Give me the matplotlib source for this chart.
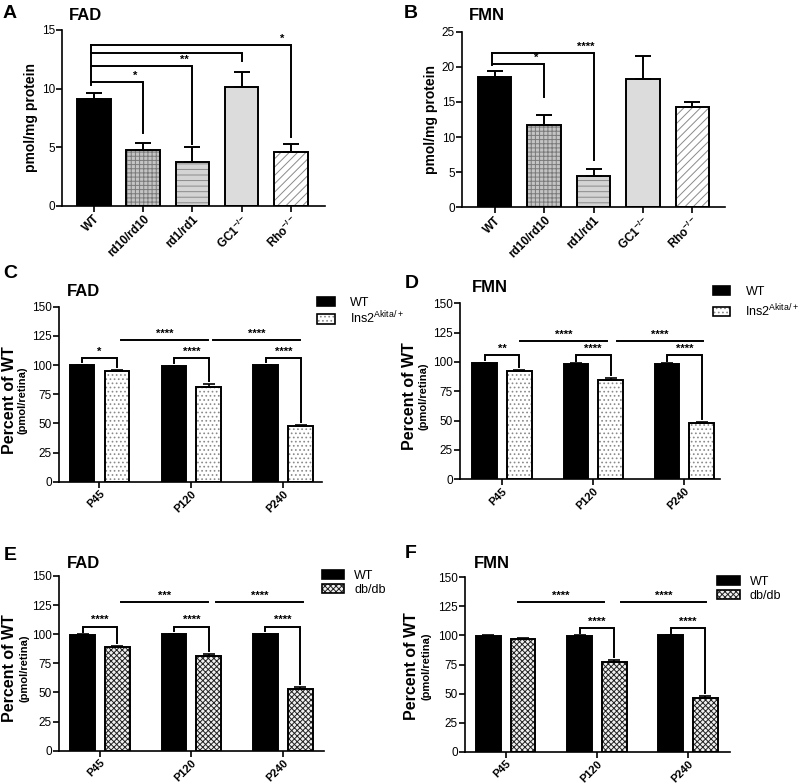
import numpy as np
import matplotlib
matplotlib.use("Agg")
from matplotlib import pyplot as plt
from matplotlib.patches import Patch
from matplotlib.legend_handler import HandlerTuple

plt.rcParams['font.family'] = ['Liberation Sans', 'DejaVu Sans']
plt.rcParams['mathtext.fontset'] = 'custom'
plt.rcParams['mathtext.rm'] = 'Liberation Sans'
plt.rcParams['mathtext.bf'] = 'Liberation Sans:bold'
plt.rcParams['mathtext.default'] = 'regular'
plt.rcParams['hatch.linewidth'] = 0.7
plt.rcParams['axes.linewidth'] = 1.2

# ---- data ----
genotypes = ['WT', 'rd10/rd10', 'rd1/rd1', 'GC1$^{-/-}$', 'Rho$^{-/-}$']
fad_geno = [9.1, 4.8, 3.75, 10.1, 4.6]
fad_geno_err = [0.55, 0.55, 1.3, 1.3, 0.65]
fmn_geno = [18.5, 11.7, 4.5, 18.3, 14.3]
fmn_geno_err = [0.95, 1.4, 1.0, 3.3, 0.7]

ages = ['P45', 'P120', 'P240']
fad_wt_akita = [100, 99.1, 99.7]
fad_akita = [94.9, 80.9, 47.5]
fad_akita_err = [0.8, 2.9, 1.1]
fmn_wt_akita = [98.9, 98.3, 98.6]
fmn_akita = [92.6, 84.3, 48.0]
fmn_akita_err = [0.8, 1.7, 1.0]
fad_wt_db = [99.4, 100, 100]
fad_db = [89.0, 81.4, 53.0]
fad_db_err = [0.9, 1.6, 2.0]
fmn_wt_db = [99.7, 99.7, 100]
fmn_db = [97.0, 77.2, 46.2]
fmn_db_err = [1.1, 1.7, 1.5]

# significance
a_stars = ['*', '**', '', '*']
b_stars = ['*', '****']
c_pair = ['*', '****', '****']
c_long = ['****', '****']
d_pair = ['**', '****', '****']
d_long = ['****', '****']
e_pair = ['****', '****', '****']
e_long = ['***', '****']
f_pair = ['', '****', '****']
f_long = ['****', '****']

W, H = 800, 784
fig = plt.figure(figsize=(8, 7.84), dpi=100)


def px_axes(l, r, t, b):
    return fig.add_axes([l / W, 1 - b / H, (r - l) / W, (b - t) / H])


def style_axes(ax):
    for s in ['top', 'right']:
        ax.spines[s].set_visible(False)
    ax.tick_params(axis='y', labelsize=8.5, width=1.2, length=4, pad=1)
    ax.tick_params(axis='x', width=1.2, length=4, pad=1)


def hbar(ax, x, h, w, face, hatch=None, hcol='black'):
    ax.bar(x, h, w, color=face, edgecolor=hcol, hatch=hatch, linewidth=0, zorder=2)
    ax.bar(x, h, w, fill=False, edgecolor='black', linewidth=1.4, zorder=3)


def stars(ax, x, y, s, dy=4.5):
    if s:
        ax.annotate(s, (x, y), xytext=(0, dy), textcoords='offset points',
                    ha='center', va='center', fontsize=8, fontweight='bold')


def fig_text(x, y, s, size, **kw):
    fig.text(x / W, 1 - y / H, s, fontsize=size, fontweight='bold', va='center', **kw)


geno_styles = [('black', None, 'black'), ('#c4c4c4', '++++', '#7a7a7a'),
               ('#d4d4d4', '---', '#8a8a8a'), ('#dcdcdc', None, 'black'),
               ('white', '////', '#8a8a8a')]


def geno_panel(ax, vals, errs, ymax, step, xlim):
    x = np.arange(len(vals))
    for i in range(len(vals)):
        face, hatch, hc = geno_styles[i]
        hbar(ax, x[i], vals[i], 0.68, face, hatch, hc)
    ax.errorbar(x, vals, yerr=[np.zeros(len(vals)), errs], fmt='none', ecolor='black',
                elinewidth=1.4, capsize=5.5, capthick=1.4, zorder=4)
    ax.set_ylim(0, ymax)
    ax.set_yticks(np.arange(0, ymax + 1, step))
    ax.set_xlim(*xlim)
    ax.set_xticks(x)
    ax.set_xticklabels(genotypes, rotation=45, ha='right', rotation_mode='anchor',
                       fontsize=8.5, fontweight='bold')
    style_axes(ax)
    ax.set_ylabel('pmol/mg protein', fontsize=10, fontweight='bold', labelpad=3)


def bracket_from_wt(ax, xs, ys, drops, top_y, bottom_y, labels, star_dx):
    lw = 1.4
    ax.plot([-0.05, -0.05], [bottom_y, top_y], color='black', lw=lw, zorder=5)
    for x, y, d, s in zip(xs, ys, drops, labels):
        ax.plot([-0.05, x, x], [y, y, d], color='black', lw=lw, zorder=5,
                solid_joinstyle='miter')
        stars(ax, x - star_dx, y, s)


group_off = 0.19
group_w = 0.27


def group_panel(ax, wt, mut, mut_err, mut_style, xlim, pair_y, pair_labels,
                long_y, long_xs, long_labels, mut_label):
    g = np.arange(len(wt))
    for i in range(len(wt)):
        hbar(ax, g[i] - group_off, wt[i], group_w, 'black')
        hbar(ax, g[i] + group_off, mut[i], group_w, *mut_style)
    ax.errorbar(g - group_off, wt, yerr=[np.zeros(3), np.full(3, 0.4)], fmt='none',
                ecolor='black', elinewidth=1.2, capsize=4.5, capthick=1.2, zorder=4)
    ax.errorbar(g + group_off, mut, yerr=[np.zeros(3), mut_err], fmt='none',
                ecolor='black', elinewidth=1.2, capsize=4.5, capthick=1.2, zorder=4)
    lw = 1.4
    for i in range(len(wt)):
        if not pair_labels[i]:
            continue
        x0, x1 = g[i] - group_off, g[i] + group_off
        ax.plot([x0, x0, x1, x1], [wt[i] + 2.5, pair_y, pair_y, mut[i] + mut_err[i] + 2.5],
                color='black', lw=lw, zorder=5, solid_joinstyle='miter')
        stars(ax, (x0 + x1) / 2, pair_y, pair_labels[i])
    for (xa, xb), s in zip(long_xs, long_labels):
        ax.plot([xa, xb], [long_y, long_y], color='black', lw=lw, zorder=5)
        stars(ax, (xa + xb) / 2, long_y, s)
    ax.set_ylim(0, 150)
    ax.set_yticks(np.arange(0, 151, 25))
    ax.set_xlim(*xlim)
    ax.set_xticks(g)
    ax.set_xticklabels(ages, rotation=45, ha='right', rotation_mode='anchor',
                       fontsize=8, fontweight='bold')
    style_axes(ax)
    face, hatch, hc = mut_style
    h1 = (Patch(facecolor='black', edgecolor='black', linewidth=1.2),)
    h2 = (Patch(facecolor=face, edgecolor=hc, hatch=hatch, linewidth=0),
          Patch(fill=False, edgecolor='black', linewidth=1.2))
    return [h1, h2], ['WT', mut_label]


def add_legend(ax, handles, labels, x, y, hl, pad, spacing):
    ax.legend(handles, labels, loc='upper left', bbox_to_anchor=(x, y), frameon=False,
              fontsize=9, handlelength=hl, handleheight=0.75, handletextpad=pad,
              borderaxespad=0, borderpad=0, labelspacing=spacing,
              handler_map={tuple: HandlerTuple(ndivide=1)})


def ylab2(xa, xb, y):
    fig_text(xa, y, 'Percent of WT', 11.5, rotation=90, ha='center')
    fig_text(xb, y, '(pmol/retina)', 8, rotation=90, ha='center')


# ---- A ----
axA = px_axes(62, 325, 30, 206)
geno_panel(axA, fad_geno, fad_geno_err, 15, 5, (-0.645, 4.69))
bracket_from_wt(axA, [1, 2, 3, 4], [10.55, 11.9, 13.0, 13.7], [6.2, 5.3, 12.4, 5.9],
                13.7, 10.3, a_stars, 0.17)
fig_text(3, 14, 'A', 14)
fig_text(69, 16, 'FAD', 12)

# ---- B ----
axB = px_axes(462, 725, 31.7, 207.3)
geno_panel(axB, fmn_geno, fmn_geno_err, 25, 5, (-0.66, 4.66))
bracket_from_wt(axB, [1, 2], [20.35, 21.9], [15.75, 6.7], 21.9, 20.2, b_stars, 0.16)
fig_text(404, 14, 'B', 14)
fig_text(469, 16, 'FMN', 12)

ins_style = ('white', '....', '#8a8a8a')
db_style = ('#f0f0f0', 'xxxxxx', '#222222')
ins_label = 'Ins2$^{Akita/+}$'

# ---- C ----
axC = px_axes(59, 322, 306.7, 481.7)
hs, ls = group_panel(axC, fad_wt_akita, fad_akita, fad_akita_err, ins_style, (-0.44, 2.42),
                     105.7, c_pair, 121.4, [(0.23, 1.18), (1.23, 2.18)], c_long, ins_label)
add_legend(axC, hs, ls, 0.981, 1.058, 1.4, 1.2, 0.1)
fig_text(3, 274, 'C', 14)
fig_text(67, 292, 'FAD', 12)
ylab2(10, 23, 400)

# ---- D ----
axD = px_axes(460, 720, 303.3, 479.3)
hs, ls = group_panel(axD, fmn_wt_akita, fmn_akita, fmn_akita_err, ins_style, (-0.46, 2.39),
                     106, d_pair, 118, [(0.2, 1.15), (1.26, 2.2)], d_long, ins_label)
add_legend(axD, hs, ls, 0.973, 1.098, 1.4, 1.2, 0.35)
fig_text(405, 283, 'D', 14)
fig_text(472, 288, 'FMN', 12)
ylab2(410, 423, 396)

# ---- E ----
axE = px_axes(59, 324, 576, 750.7)
hs, ls = group_panel(axE, fad_wt_db, fad_db, fad_db_err, db_style, (-0.447, 2.45),
                     106.6, e_pair, 127.4, [(0.23, 1.18), (1.27, 2.22)], e_long, 'db/db')
add_legend(axE, hs, ls, 0.992, 1.034, 1.8, 0.8, 0.15)
fig_text(4, 555, 'E', 14)
fig_text(67, 563, 'FAD', 12)
ylab2(10, 24, 668)

# ---- F ----
axF = px_axes(465, 730, 577.3, 751.7)
hs, ls = group_panel(axF, fmn_wt_db, fmn_db, fmn_db_err, db_style, (-0.447, 2.46),
                     106.4, f_pair, 128.9, [(0.13, 1.08), (1.26, 2.2)], f_long, 'db/db')
add_legend(axF, hs, ls, 0.951, 1.006, 1.8, 0.8, 0.15)
fig_text(405, 553, 'F', 14)
fig_text(474, 563, 'FMN', 12)
ylab2(412, 426, 666)

fig.savefig('out.png', dpi=100)
